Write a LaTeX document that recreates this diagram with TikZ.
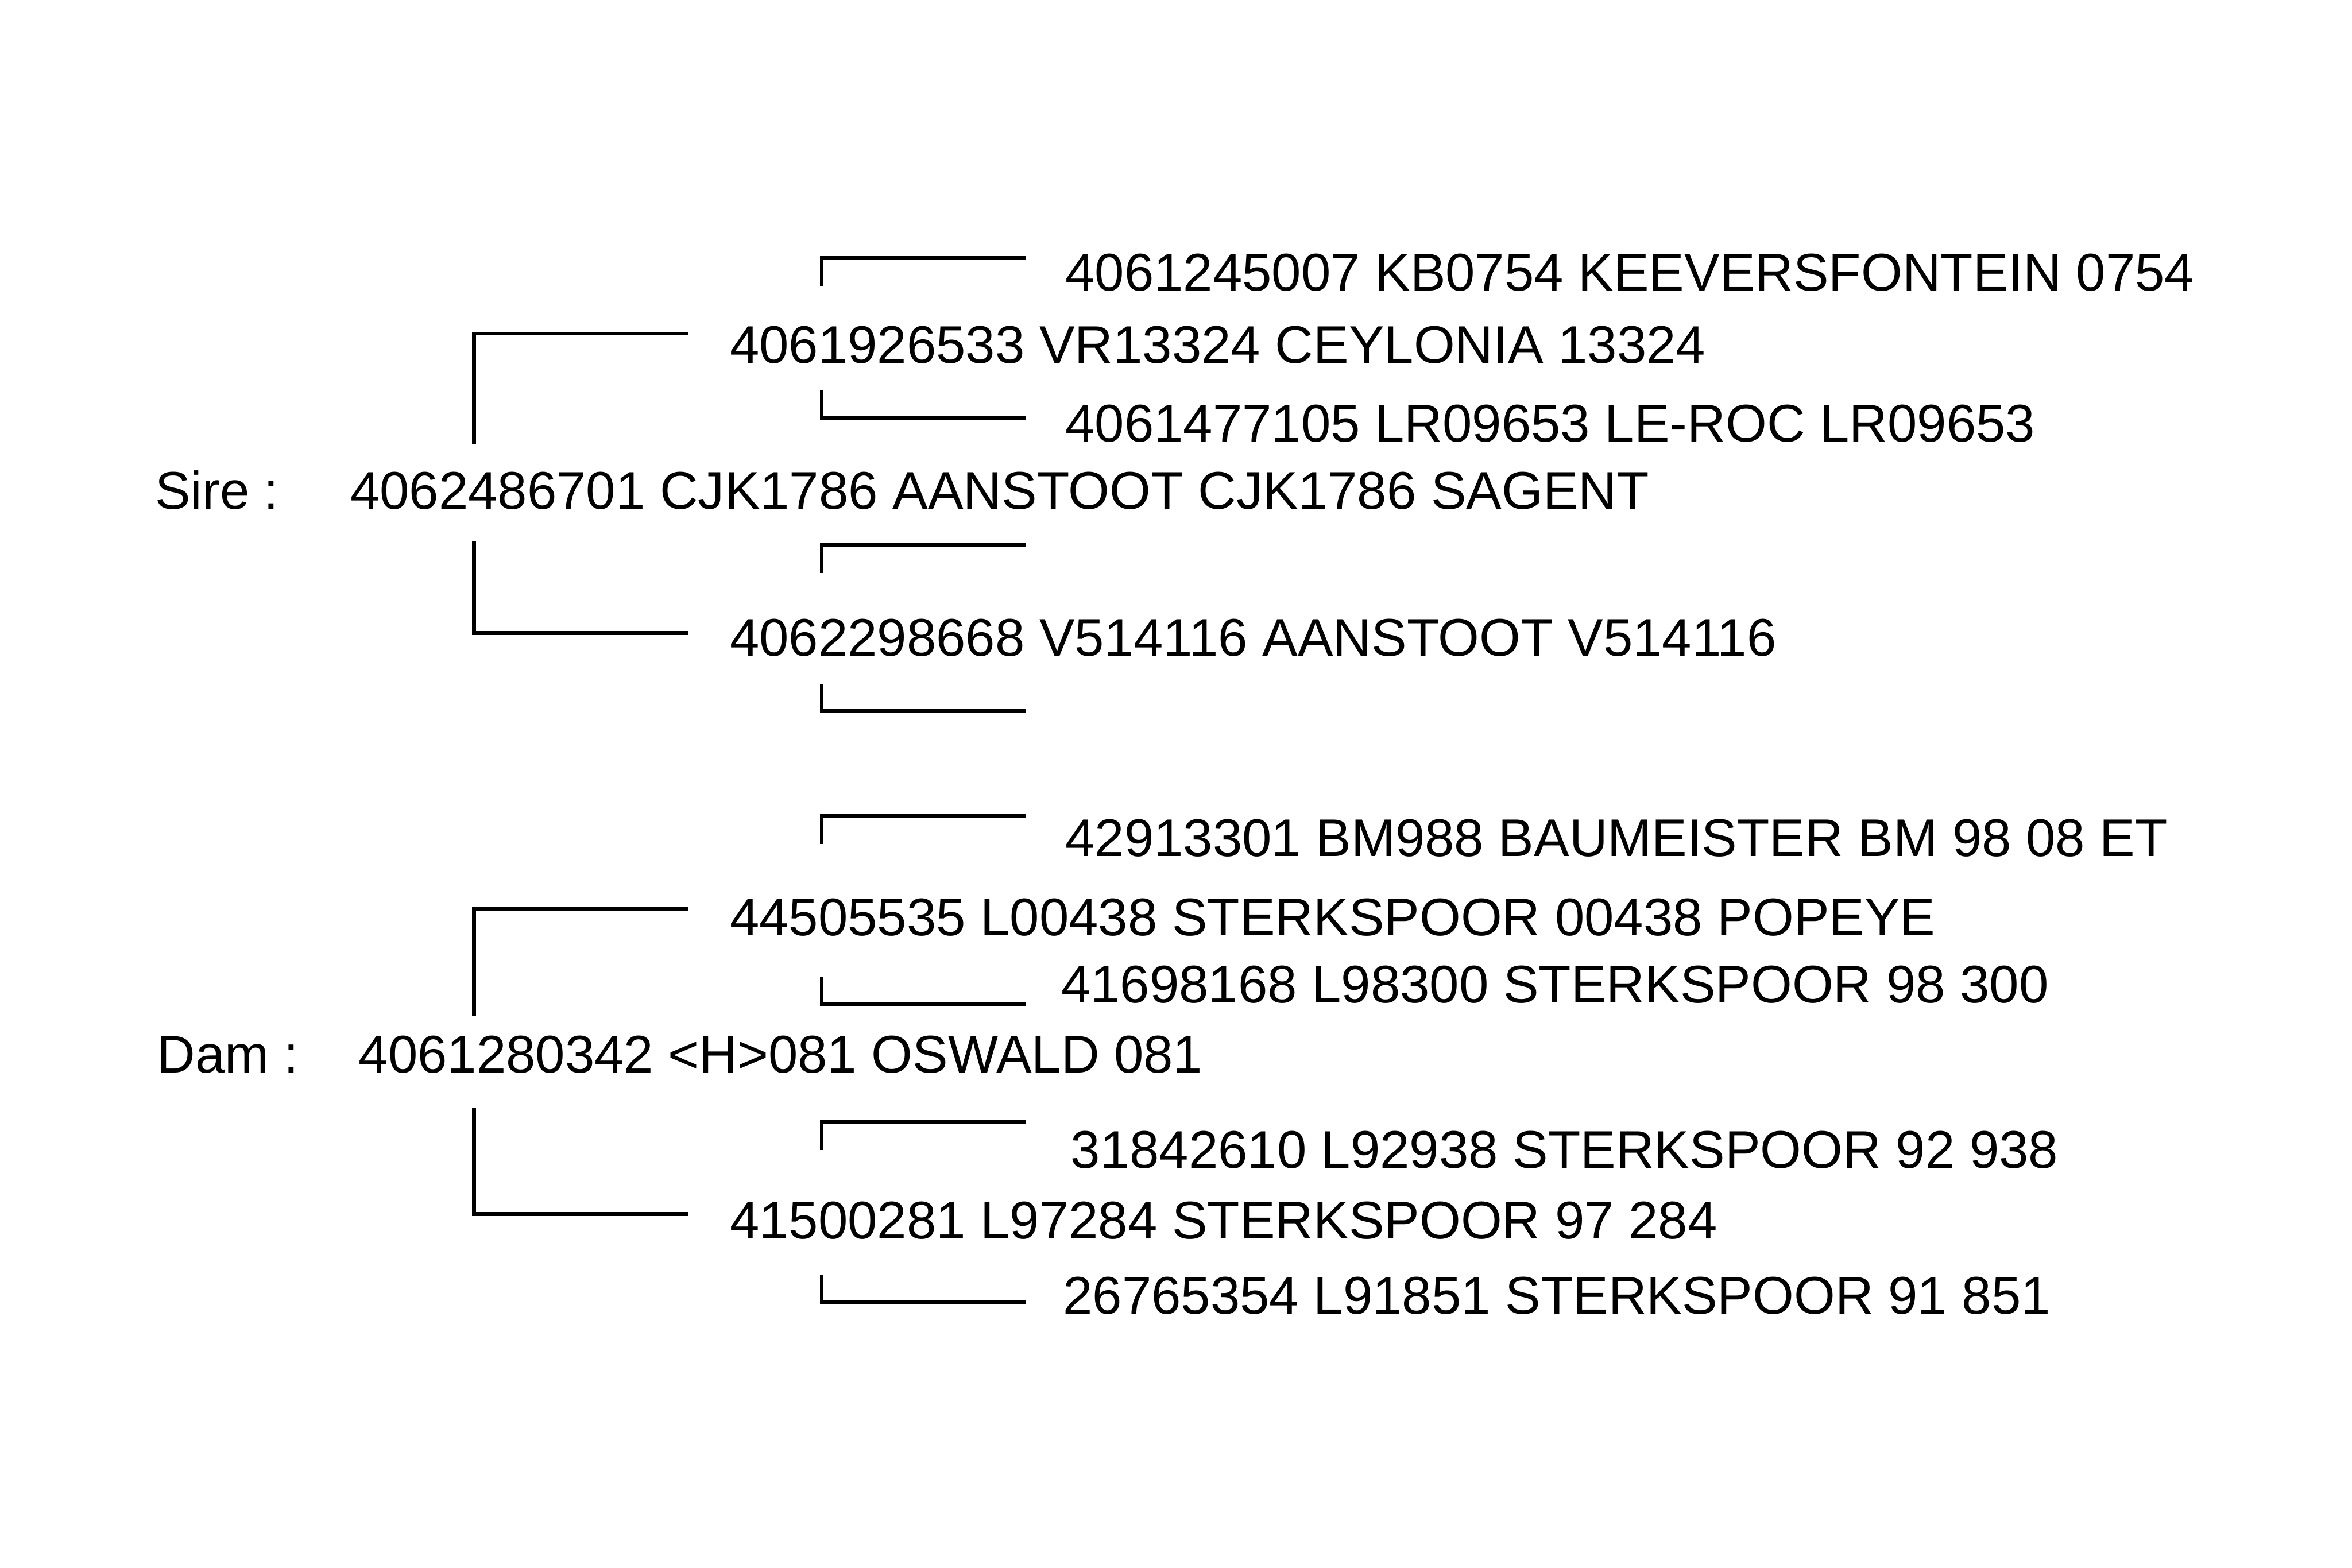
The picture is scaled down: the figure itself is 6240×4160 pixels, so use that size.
\documentclass[tikz,border=0pt]{standalone}
\usepackage{fontspec}
\setmainfont{Liberation Sans}
\begin{document}
\begin{tikzpicture}[x=0.01cm,y=-0.01cm,
  bracket/.style={line width=2.9pt,line cap=butt,line join=miter},
  lbl/.style={anchor=base west,inner sep=0pt,font=\fontsize{40}{48}\selectfont}]
\useasboundingbox[fill=white] (0,0) rectangle (6240,4160);
% texts
\node[lbl] (gp1) at (2826,772) {4061245007 KB0754 KEEVERSFONTEIN 0754};
\node[lbl] (s1) at (1936,964) {4061926533 VR13324 CEYLONIA 13324};
\node[lbl] (gp2) at (2826,1172) {4061477105 LR09653 LE-ROC LR09653};
\node[lbl] (sirel) at (411,1350) {Sire :};
\node[lbl] (sire) at (929,1350) {4062486701 CJK1786 AANSTOOT CJK1786 SAGENT};
\node[lbl] (s2) at (1936,1741) {4062298668 V514116 AANSTOOT V514116};
\node[lbl] (gp5) at (2826,2272) {42913301 BM988 BAUMEISTER BM 98 08 ET};
\node[lbl] (d1) at (1936,2483) {44505535 L00438 STERKSPOOR 00438 POPEYE};
\node[lbl] (gp6) at (2815,2661) {41698168 L98300 STERKSPOOR 98 300};
\node[lbl] (daml) at (416,2846) {Dam :};
\node[lbl] (dam) at (951,2846) {4061280342 <H>081 OSWALD 081};
\node[lbl] (gp7) at (2840,3099) {31842610 L92938 STERKSPOOR 92 938};
\node[lbl] (d2) at (1936,3287) {41500281 L97284 STERKSPOOR 97 284};
\node[lbl] (gp8) at (2820,3486) {26765354 L91851 STERKSPOOR 91 851};
% bracket end points
\coordinate (sA) at (1258,1178); \coordinate (sAe) at (1825,885);
\coordinate (sB) at (1258,1435); \coordinate (sBe) at (1825,1680);
\coordinate (dA) at (1258,2696); \coordinate (dAe) at (1825,2411);
\coordinate (dB) at (1258,2940); \coordinate (dBe) at (1825,3221);
\coordinate (g1) at (2180,759);  \coordinate (g1e) at (2723,685);
\coordinate (g2) at (2180,1035); \coordinate (g2e) at (2723,1109);
\coordinate (g3) at (2180,1520); \coordinate (g3e) at (2723,1445);
\coordinate (g4) at (2180,1814); \coordinate (g4e) at (2723,1886);
\coordinate (g5) at (2180,2239); \coordinate (g5e) at (2723,2165);
\coordinate (g6) at (2180,2593); \coordinate (g6e) at (2723,2665);
\coordinate (g7) at (2180,3052); \coordinate (g7e) at (2723,2978);
\coordinate (g8) at (2180,3382); \coordinate (g8e) at (2723,3454);
% brackets
\foreach \a in {sA,sB,dA,dB,g1,g2,g3,g4,g5,g6,g7,g8}
  \draw[bracket] (\a) |- (\a e);
\end{tikzpicture}
\end{document}
